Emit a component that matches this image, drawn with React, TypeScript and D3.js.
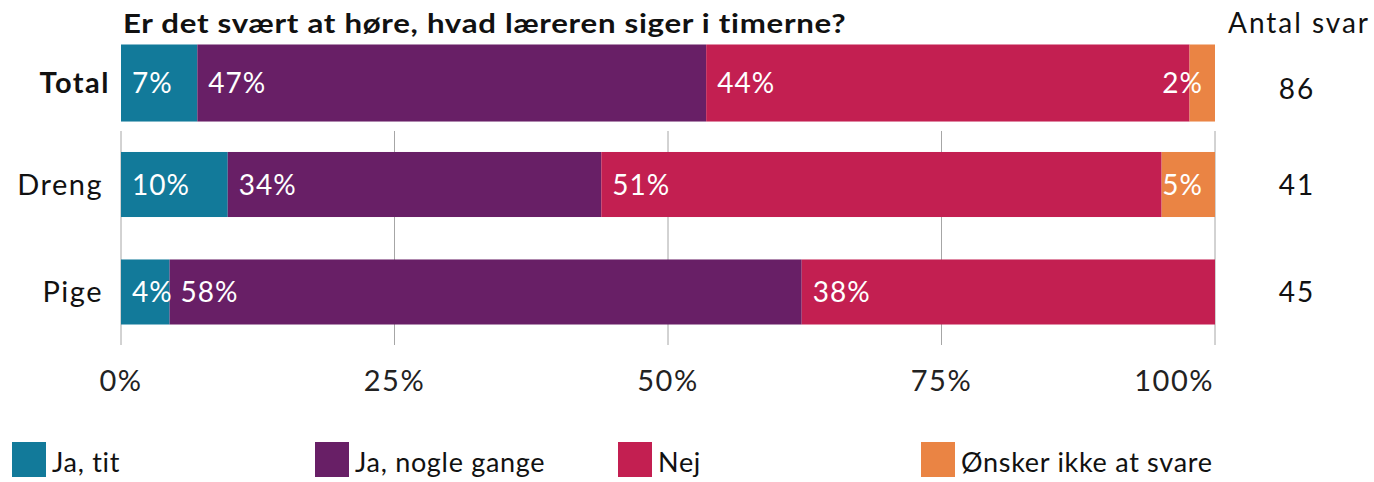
import React from "react";
import * as d3 from "d3";

// svar fordelt på kategori (antal personer)
const groups = ["Total", "Dreng", "Pige"];
const answers = ["Ja, tit", "Ja, nogle gange", "Nej", "Ønsker ikke at svare"];
const jaTit = [6, 4, 2];
const jaNogleGange = [40, 14, 26];
const nej = [38, 21, 17];
const oenskerIkke = [2, 2, 0];
const antalSvar = [86, 41, 45];
const ticks = [0, 25, 50, 75, 100];

const colors = ["#127a9a", "#681f66", "#c31f51", "#ea8444"];

const W = 1374;
const H = 482;
const FONT = "Lato, 'Open Sans', sans-serif";

export default function App() {
  const x = d3.scaleLinear().domain([0, 100]).range([121, 1215]);
  const y = d3
    .scaleBand()
    .domain(groups)
    .range([23, 346])
    .paddingInner(0.395)
    .paddingOuter(0.2);

  const rows = groups.map((g, i) => {
    const counts = [jaTit[i], jaNogleGange[i], nej[i], oenskerIkke[i]];
    const n = antalSvar[i];
    const pct = counts.map((c) => (c / n) * 100);
    let acc = 0;
    const segs = pct.map((p, k) => {
      const s = { k, x0: acc, x1: acc + p, p };
      acc += p;
      return s;
    });
    return { g, i, n, segs: segs.filter((s) => s.p > 0) };
  });

  const gridTop = (y("Dreng") as number) - 21;
  const gridBottom = 345;
  const fmt = d3.format(".0f");

  return (
    <svg
      width={W}
      height={H}
      style={{
        position: "absolute",
        left: 0,
        top: 0,
        background: "#fff",
        fontVariantLigatures: "none",
      }}
      fontFamily={FONT}
    >
      {/* titlen er lidt bredere i originalen */}
      <text
        transform="translate(123,33) scale(1.2,1)"
        fontSize={26}
        fontWeight={700}
        letterSpacing={0.6}
        fill="#111"
      >
        Er det svært at høre, hvad læreren siger i timerne?
      </text>
      <text
        x={1228}
        y={33}
        fontSize={28}
        fill="#111"
        textLength={140}
        lengthAdjust="spacing"
      >
        Antal svar
      </text>

      {ticks.map((t, j) => {
        const lastTick = j === ticks.length - 1;
        return (
          <g key={t}>
            <line
              x1={x(t)}
              x2={x(t)}
              y1={gridTop}
              y2={gridBottom}
              stroke="#a6a6a6"
              strokeWidth={1}
            />
            <text
              x={lastTick ? x(t) - 1 : x(t)}
              y={391}
              fontSize={29}
              letterSpacing={1.5}
              textAnchor={lastTick ? "end" : "middle"}
              fill="#222"
            >
              {t}%
            </text>
          </g>
        );
      })}

      {rows.map((r) => {
        const isTotal = r.g === "Total";
        const by = y(r.g) as number;
        const bh = y.bandwidth() + (isTotal ? 12 : 0);
        const cy = by + bh / 2;
        return (
          <g key={r.g}>
            {r.segs.map((s) => (
              <rect
                key={s.k}
                x={x(s.x0)}
                y={by}
                width={x(s.x1) - x(s.x0)}
                height={bh}
                fill={colors[s.k]}
              />
            ))}
            {r.segs.map((s) => {
              const w = x(s.x1) - x(s.x0);
              const last = s.x1 > 99.9;
              const narrow = last && w < 60;
              return (
                <text
                  key={"l" + s.k}
                  x={narrow ? x(100) - 12 : x(s.x0) + 11}
                  y={cy}
                  dy="0.36em"
                  fontSize={28}
                  letterSpacing={1}
                  textAnchor={narrow ? "end" : "start"}
                  fill="#fff"
                >
                  {fmt(s.p)}%
                </text>
              );
            })}
            <text
              x={isTotal ? 110 : 103}
              y={cy}
              dy="0.36em"
              fontSize={29}
              letterSpacing={1.5}
              fontWeight={isTotal ? 700 : 400}
              textAnchor="end"
              fill="#111"
            >
              {r.g}
            </text>
            <text
              x={1297}
              y={cy + (isTotal ? 6 : 0)}
              dy="0.36em"
              fontSize={28}
              letterSpacing={2}
              textAnchor="middle"
              fill="#111"
            >
              {r.n}
            </text>
          </g>
        );
      })}

      {answers.map((a, k) => (
        <g key={a} transform={`translate(${12 + k * 303},442)`}>
          <rect width={34} height={35} fill={colors[k]} />
          <text x={40} y={30} fontSize={27} letterSpacing={0.7} fill="#111">
            {a}
          </text>
        </g>
      ))}
    </svg>
  );
}
